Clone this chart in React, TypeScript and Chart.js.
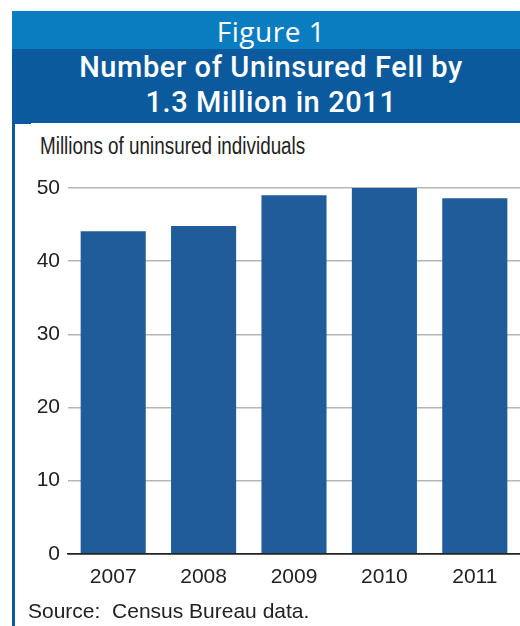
import React, { useEffect, useRef } from "react";
import { Chart, registerables } from "chart.js";

Chart.register(...registerables);

const years = ["2007", "2008", "2009", "2010", "2011"];
const uninsured = [44.1, 44.8, 49.0, 50.0, 48.6];
const yTicks = [0, 10, 20, 30, 40, 50];

const figureLabel = "Figure 1";
const titleLines = ["Number of Uninsured Fell by", "1.3 Million in 2011"];
const axisTitle = "Millions of uninsured individuals";
const sourceNote = "Source:  Census Bureau data.";

const SANS = '"Liberation Sans", Arial, sans-serif';

export default function App() {
  const ref = useRef<HTMLCanvasElement | null>(null);

  useEffect(() => {
    document.body.style.margin = "0";
    const canvas = ref.current;
    if (!canvas) return;
    const chart = new Chart(canvas, {
      type: "bar",
      data: {
        labels: years,
        datasets: [
          {
            data: uninsured,
            backgroundColor: "#1f5c99",
            borderWidth: 0,
            barPercentage: 0.72,
            categoryPercentage: 1,
          },
        ],
      },
      options: {
        animation: false,
        responsive: false,
        maintainAspectRatio: false,
        layout: { padding: { top: 28, right: 0, bottom: 4, left: 0 } },
        plugins: {
          legend: { display: false },
          tooltip: { enabled: false },
          title: { display: false },
        },
        scales: {
          x: {
            grid: { display: false, drawTicks: false },
            border: { display: true, color: "#222", width: 1.5 },
            ticks: {
              color: "#222",
              padding: 11,
              font: { family: SANS, size: 21 },
            },
          },
          y: {
            min: 0,
            max: 50,
            afterFit: (scale: any) => {
              scale.width = 38;
            },
            afterBuildTicks: (scale: any) => {
              scale.ticks = yTicks.map((v) => ({ value: v }));
            },
            border: { display: false },
            grid: {
              drawTicks: false,
              color: (ctx: any) => (ctx.tick && ctx.tick.value === 0 ? "#222" : "#b5b5b5"),
              lineWidth: 1.5,
            },
            ticks: {
              color: "#222",
              padding: 8,
              font: { family: SANS, size: 21 },
            },
          },
        },
      },
    });
    return () => chart.destroy();
  }, []);

  return (
    <div style={{ position: "relative", width: 520, height: 626, background: "#fff", overflow: "hidden" }}>
      <div
        style={{
          position: "absolute",
          left: 12,
          top: 11,
          width: 508,
          height: 38,
          background: "#0a7dc0",
          color: "#fff",
          fontFamily: '"Open Sans", "Liberation Sans", sans-serif',
          fontWeight: 400,
          fontSize: 28,
          letterSpacing: 0.5,
          lineHeight: "40px",
          textAlign: "center",
          paddingLeft: 10,
          boxSizing: "border-box",
        }}
      >
        {figureLabel}
      </div>
      <div
        style={{
          position: "absolute",
          left: 12,
          top: 49,
          width: 508,
          height: 74,
          background: "#0b5a9d",
          color: "#fff",
          fontFamily: 'Roboto, "Liberation Sans", sans-serif',
          fontWeight: 500,
          fontSize: 29,
          letterSpacing: 0.6,
          lineHeight: "35px",
          textAlign: "center",
          paddingTop: 1,
          paddingLeft: 10,
          boxSizing: "border-box",
        }}
      >
        {titleLines.map((t) => (
          <div key={t}>{t}</div>
        ))}
      </div>
      <div style={{ position: "absolute", left: 12, top: 123, width: 3, height: 503, background: "#0b5a9d" }} />
      <div style={{ position: "absolute", left: 12, top: 122, width: 19, height: 2, background: "#0b5a9d" }} />
      <div
        style={{
          position: "absolute",
          left: 40,
          top: 132,
          color: "#222",
          fontFamily: SANS,
          fontSize: 23,
          lineHeight: "28px",
          whiteSpace: "nowrap",
          transform: "scaleX(0.82)",
          transformOrigin: "left top",
        }}
      >
        {axisTitle}
      </div>
      <canvas
        ref={ref}
        width={490}
        height={445}
        style={{ position: "absolute", left: 30, top: 160, width: 490, height: 445 }}
      />
      <div
        style={{
          position: "absolute",
          left: 28,
          top: 599,
          color: "#222",
          fontFamily: SANS,
          fontSize: 21,
          lineHeight: "24px",
          whiteSpace: "pre",
        }}
      >
        {sourceNote}
      </div>
    </div>
  );
}
